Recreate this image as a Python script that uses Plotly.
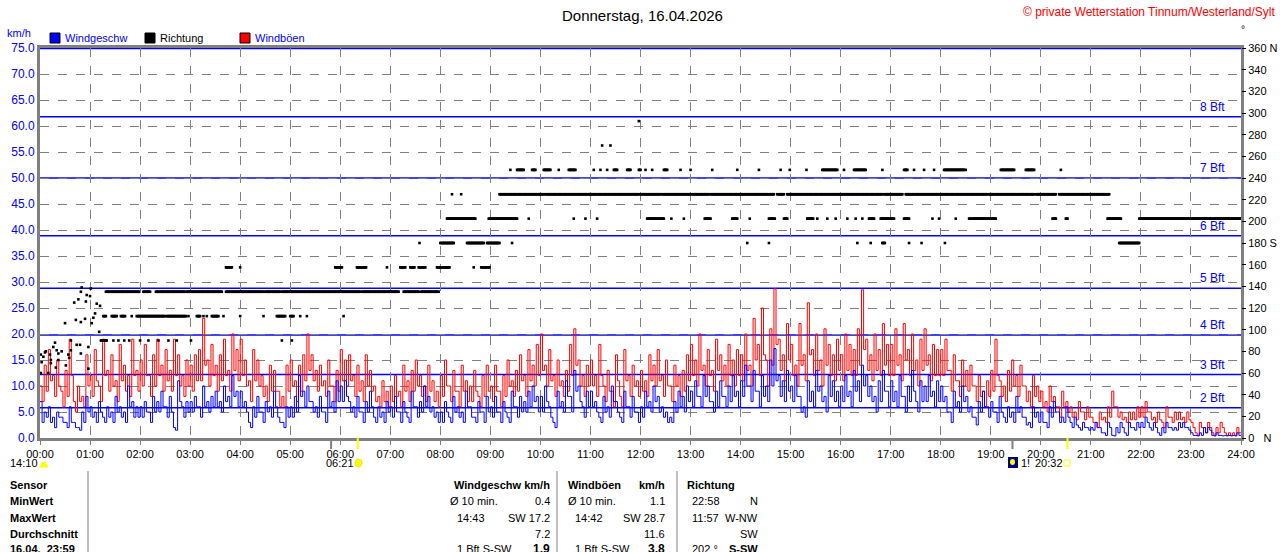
import plotly.graph_objects as go

# ---------------- data ----------------
HOURS = [f"{h:02d}:00" for h in range(25)]

# wind speed km/h, 5-minute peaks, one row per hour
SPEED = [
    [7, 5, 6, 4, 5, 4, 3, 6, 3, 2, 5, 8],
    [6, 5, 7, 4, 6, 5, 8, 6, 5, 10, 7, 6],
    [6, 7, 5, 8, 7, 9, 6, 8, 2, 11, 6, 7],
    [7, 8, 6, 10, 7, 8, 9, 7, 10, 8, 12, 9],
    [9, 7, 3, 6, 8, 5, 7, 6, 9, 4, 3, 6],
    [6, 8, 12, 9, 10, 7, 6, 8, 5, 9, 7, 11],
    [10, 11, 7, 6, 8, 5, 7, 9, 4, 6, 5, 7],
    [6, 8, 5, 7, 4, 9, 6, 7, 10, 8, 6, 5],
    [5, 7, 4, 8, 6, 5, 9, 6, 4, 7, 5, 8],
    [6, 8, 5, 7, 4, 9, 6, 8, 7, 9, 10, 8],
    [8, 10, 6, 3, 9, 7, 11, 8, 13, 10, 6, 9],
    [9, 7, 4, 8, 6, 10, 7, 4, 9, 6, 8, 5],
    [6, 9, 7, 10, 8, 6, 5, 4, 7, 9, 8, 10],
    [9, 11, 8, 12, 10, 7, 9, 11, 8, 10, 12, 9],
    [11, 14, 10, 13, 9, 12, 10, 15, 17.2, 12, 11, 13],
    [10, 12, 8, 6, 11, 9, 13, 10, 8, 12, 11, 9],
    [10, 12, 9, 13, 11, 14, 12, 10, 8, 11, 13, 9],
    [11, 9, 12, 8, 10, 13, 7, 11, 10, 12, 9, 11],
    [10, 8, 5, 9, 7, 10, 8, 6, 4, 7, 9, 6],
    [7, 5, 8, 4, 6, 5, 8, 6, 4, 3, 6, 5],
    [5, 3, 6, 7, 5, 4, 6, 3, 4, 2, 3, 2],
    [2, 3, 2, 1, 3, 0.5, 2, 3, 1, 3, 2, 3],
    [3, 4, 2, 3, 1, 2, 3, 2, 2, 3, 3, 2],
    [1, 0.5, 1, 2, 2, 0.5, 1, 0.5, 0.5, 0.5, 0.5, 1],
]
# wind speed km/h, 5-minute lows, one row per hour
SPEED_LO = [
    [3, 4, 3, 2, 4, 3, 2, 3, 2, 1.5, 3, 5],
    [4, 3, 5, 3, 4, 3, 5, 4, 3, 6, 4, 4],
    [4, 5, 3, 5, 5, 6, 4, 5, 1.5, 7, 4, 5],
    [5, 6, 4, 6, 5, 6, 6, 5, 7, 6, 8, 6],
    [6, 5, 2, 4, 5, 3, 5, 4, 6, 3, 2, 4],
    [4, 5, 8, 6, 7, 5, 4, 5, 3, 6, 5, 7],
    [7, 8, 5, 4, 5, 3, 5, 6, 3, 4, 3, 5],
    [4, 5, 3, 5, 3, 6, 4, 5, 6, 5, 4, 3],
    [3, 5, 3, 5, 4, 3, 6, 4, 3, 5, 3, 5],
    [4, 5, 3, 5, 3, 6, 4, 5, 5, 6, 7, 5],
    [5, 7, 4, 2, 6, 5, 8, 5, 9, 7, 4, 6],
    [6, 5, 3, 5, 4, 7, 5, 3, 6, 4, 5, 3],
    [4, 6, 5, 7, 5, 4, 3, 3, 5, 6, 5, 7],
    [6, 8, 6, 8, 7, 5, 6, 8, 6, 7, 8, 6],
    [8, 10, 7, 9, 6, 8, 7, 10, 11, 8, 7, 9],
    [7, 8, 5, 4, 7, 6, 9, 7, 5, 8, 7, 6],
    [7, 8, 6, 9, 7, 10, 8, 7, 5, 7, 9, 6],
    [7, 6, 8, 5, 7, 9, 5, 7, 7, 8, 6, 7],
    [7, 5, 3, 6, 5, 7, 5, 4, 2.5, 5, 6, 4],
    [5, 3, 5, 3, 4, 3, 5, 4, 2.5, 2, 4, 3],
    [3, 2, 4, 5, 3, 3, 4, 2, 2.5, 1.5, 2, 1.5],
    [1.5, 2, 1, 0.5, 2, 0.4, 1, 2, 0.5, 2, 1.5, 2],
    [2, 3, 1.5, 2, 0.5, 1, 2, 1.5, 1.5, 2, 2, 1.5],
    [0.5, 0.4, 0.5, 1, 1.5, 0.4, 0.5, 0.4, 0.4, 0.4, 0.4, 0.5],
]

# wind gusts km/h, 5-minute peaks, one row per hour
GUST = [
    [10, 14, 17, 12, 15, 9, 13, 19, 7, 10, 8, 16],
    [12, 17, 10, 19, 13, 16, 11, 18, 14, 12, 19, 13],
    [15, 18, 12, 16, 19, 14, 17, 13, 19, 16, 12, 15],
    [14, 16, 17, 23, 15, 18, 14, 16, 19, 13, 20, 17],
    [19, 15, 11, 17, 15, 12, 10, 14, 13, 9, 8, 14],
    [15, 11, 14, 16, 20, 16, 13, 14, 11, 15, 10, 13],
    [17, 15, 16, 12, 14, 11, 16, 13, 10, 8, 11, 9],
    [10, 12, 9, 14, 11, 13, 15, 12, 10, 14, 11, 9],
    [12, 15, 10, 13, 9, 14, 11, 10, 13, 8, 12, 14],
    [10, 14, 9, 12, 15, 11, 13, 16, 12, 17, 14, 18],
    [20, 14, 17, 12, 15, 11, 13, 18, 21, 15, 12, 14],
    [15, 12, 18, 10, 13, 9, 16, 8, 17, 12, 14, 11],
    [13, 11, 16, 14, 17, 12, 15, 10, 14, 12, 13, 16],
    [18, 15, 20, 14, 17, 13, 19, 16, 14, 18, 15, 17],
    [16, 20, 14, 23, 18, 25, 15, 21, 28.7, 19, 16, 22],
    [18, 14, 22, 16, 26, 17, 20, 15, 21, 18, 16, 19],
    [16, 20, 18, 17, 21, 28.5, 19, 16, 20, 17, 22, 18],
    [18, 21, 16, 22, 17, 20, 15, 19, 21, 16, 18, 17],
    [17, 19, 13, 16, 11, 15, 13, 14, 10, 12, 9, 11],
    [13, 19, 11, 10, 13, 15, 12, 14, 10, 9, 12, 10],
    [9, 7, 10, 8, 6, 9, 7, 6, 5, 7, 5, 6],
    [4, 3, 5, 4, 6, 9, 6, 5, 4, 5, 5, 6],
    [6, 7, 5, 4, 5, 3, 6, 4, 5, 5, 4, 5],
    [3, 1, 3, 2, 3, 1, 2, 3, 1, 1, 1, 2],
]
# wind gusts km/h, 5-minute lows, one row per hour
GUST_LO = [
    [7, 9, 11, 8, 10, 6, 8, 12, 5, 7, 6, 10],
    [8, 11, 7, 12, 9, 10, 7, 11, 9, 8, 12, 9],
    [10, 12, 8, 10, 12, 9, 11, 9, 12, 10, 8, 10],
    [9, 11, 11, 14, 10, 12, 9, 11, 12, 9, 13, 11],
    [12, 10, 7, 11, 10, 8, 7, 9, 9, 6, 6, 9],
    [10, 7, 9, 11, 13, 11, 9, 10, 8, 10, 7, 9],
    [11, 10, 11, 8, 9, 7, 10, 9, 7, 6, 7, 6],
    [7, 8, 6, 9, 7, 9, 10, 8, 7, 9, 7, 6],
    [8, 10, 7, 9, 6, 9, 7, 7, 9, 6, 8, 9],
    [7, 9, 6, 8, 10, 8, 9, 11, 8, 11, 10, 12],
    [13, 10, 11, 8, 10, 8, 9, 12, 14, 10, 8, 10],
    [10, 8, 12, 7, 9, 6, 11, 6, 11, 8, 10, 8],
    [9, 8, 11, 10, 11, 8, 10, 7, 10, 8, 9, 11],
    [12, 10, 13, 10, 12, 9, 13, 11, 10, 12, 10, 12],
    [11, 13, 10, 15, 12, 16, 10, 14, 18, 13, 11, 15],
    [12, 10, 14, 11, 16, 12, 13, 10, 14, 12, 11, 13],
    [11, 13, 12, 12, 14, 17, 13, 11, 13, 12, 14, 12],
    [12, 14, 11, 15, 12, 13, 10, 13, 14, 11, 12, 12],
    [12, 13, 9, 11, 8, 10, 9, 10, 7, 8, 6, 8],
    [9, 12, 8, 7, 9, 10, 8, 10, 7, 6, 8, 7],
    [6, 5, 7, 6, 4, 6, 5, 4, 3.5, 5, 3.5, 4],
    [3, 2, 3.5, 3, 4, 6, 4, 3.5, 3, 3.5, 3.5, 4],
    [4, 5, 3.5, 3, 3.5, 2, 4, 3, 3.5, 3.5, 3, 3.5],
    [2, 0.5, 2, 1, 2, 0.5, 1, 2, 0.5, 0.5, 0.5, 1],
]

# wind direction: early scattered readings (minute of day, degrees)
EARLY_T = [50, 49, 56, 60, 61, 46, 41, 55, 68, 72, 66, 43, 49, 54, 30, 62, 64, 71, 37, 18,
           44, 48, 73, 79, 6, 7, 16, 20, 26, 22, 1, 4, 12, 13, 34, 35, 37, 49, 58, 22,
           2, 13, 31, 19, 1, 58, 10]
EARLY_D = [139, 135, 132, 131, 138, 128, 125, 126, 124, 122, 115, 109, 107, 110, 106, 106, 111, 98, 90, 88,
           86, 86, 90, 90, 79, 80, 84, 81, 80, 78, 77, 75, 77, 72, 77, 74, 81, 78, 84, 72,
           70, 69, 67, 65, 60, 64, 60]

# wind direction: minute ranges (start, end) at which each sector was reported
DIR_90 = [(74, 80), (88, 88), (94, 94), (101, 101), (107, 107), (120, 120), (130, 130), (142, 142),
          (154, 154), (164, 164), (181, 181), (290, 290), (302, 302)]
DIR_112 = [(76, 79), (86, 92), (97, 102), (110, 110), (116, 150), (152, 175), (178, 178), (188, 192),
           (196, 196), (200, 200), (206, 214), (220, 220), (240, 240), (268, 268), (284, 294),
           (300, 304), (312, 312), (320, 320), (364, 364)]
DIR_135 = [(79, 119), (124, 132), (139, 174), (176, 218), (223, 268), (270, 288), (290, 384),
           (386, 430), (436, 454), (457, 478)]
DIR_157 = [(223, 230), (240, 240), (354, 362), (380, 391), (416, 416), (432, 438), (444, 449),
           (454, 462), (476, 491), (520, 520), (529, 539)]
DIR_180 = [(455, 455), (480, 496), (512, 532), (536, 551), (566, 566), (848, 848), (874, 874),
           (980, 980), (996, 996), (1010, 1013), (1042, 1042), (1057, 1057), (1085, 1085), (1294, 1318)]
DIR_202 = [(488, 522), (538, 572), (586, 586), (640, 640), (654, 654), (668, 668), (728, 748),
           (757, 757), (772, 772), (797, 804), (830, 836), (851, 851), (874, 881), (892, 896),
           (920, 927), (932, 932), (944, 944), (954, 954), (968, 968), (978, 978), (986, 986),
           (994, 1000), (1008, 1024), (1036, 1042), (1070, 1070), (1078, 1078), (1098, 1098),
           (1114, 1146), (1214, 1218), (1230, 1232), (1280, 1296), (1318, 1440)]
DIR_225 = [(494, 494), (505, 505), (551, 604), (606, 718), (720, 744), (746, 780), (782, 802),
           (804, 880), (884, 892), (896, 1010), (1012, 1034), (1038, 1136), (1138, 1192),
           (1194, 1218), (1222, 1282)]
DIR_247 = [(564, 564), (572, 580), (590, 594), (604, 612), (622, 622), (634, 642), (664, 664),
           (672, 672), (680, 680), (688, 692), (704, 708), (718, 720), (726, 726), (734, 734),
           (748, 752), (768, 768), (780, 780), (806, 806), (836, 836), (862, 862), (888, 888),
           (899, 899), (919, 919), (938, 956), (964, 964), (976, 990), (1010, 1010), (1036, 1040),
           (1048, 1048), (1060, 1060), (1072, 1072), (1084, 1108), (1110, 1110), (1152, 1168),
           (1182, 1192), (1224, 1224)]
DIR_270 = [(674, 674), (684, 684)]
DIR_292 = [(718, 718)]
DIR_SECTORS = [(90, DIR_90), (112.5, DIR_112), (135, DIR_135), (157.5, DIR_157), (180, DIR_180),
               (202.5, DIR_202), (225, DIR_225), (247.5, DIR_247), (270, DIR_270), (292.5, DIR_292)]

BFT_LEVELS = [5.8, 12.2, 19.8, 28.8, 38.9, 50.0, 61.8, 74.9]
BFT_LABELS = ["2 Bft", "3 Bft", "4 Bft", "5 Bft", "6 Bft", "7 Bft", "8 Bft", ""]

NBSP = "\u00a0"
DIR_TICKS = list(range(0, 361, 20))
DIR_TICKTEXT = [("0" + NBSP * 3 + "N") if v == 0 else "180 S" if v == 180 else "360 N" if v == 360 else str(v)
                for v in DIR_TICKS]

# ---------------- build series ----------------
def zigzag(hi_rows, lo_rows):
    xs, ys = [], []
    for h in range(24):
        for i in range(12):
            t = h * 60 + i * 5
            xs += [t, t + 2.5]
            ys += [hi_rows[h][i], lo_rows[h][i]]
    xs.append(1440)
    ys.append(ys[-1])
    return xs, ys


sx, sy = zigzag(SPEED, SPEED_LO)
gx, gy = zigzag(GUST, GUST_LO)

dir_t = list(EARLY_T)
dir_d = list(EARLY_D)
for deg, runs in DIR_SECTORS:
    for lo, hi in runs:
        for m in range(lo, hi + 1):
            dir_t.append(m)
            dir_d.append(deg)

# ---------------- geometry helpers ----------------
W, H = 1280, 552
L, R, T, B = 40, 1241, 48, 438          # plot area in pixels
FONT = "Liberation Sans"


def px(x):
    return (x - L) / (R - L)


def py(y):
    return (B - y) / (B - T)


fig = go.Figure()
fig.add_trace(go.Scatter(x=gx, y=gy, mode="lines", line=dict(color="#ff0000", width=1, shape="hv"),
                         name="Windböen", hoverinfo="skip"))
fig.add_trace(go.Scatter(x=sx, y=sy, mode="lines", line=dict(color="#0000ff", width=1, shape="hv"),
                         name="Windgeschw", hoverinfo="skip"))
fig.add_trace(go.Scatter(x=dir_t, y=dir_d, mode="markers", yaxis="y2", name="Richtung",
                         marker=dict(symbol="square", size=2.6, color="black", line=dict(width=0)),
                         hoverinfo="skip"))

shapes = []
annotations = []

# Beaufort lines
for lev, lab in zip(BFT_LEVELS, BFT_LABELS):
    shapes.append(dict(type="line", xref="paper", x0=0, x1=1, yref="y", y0=lev, y1=lev,
                       line=dict(color="#0000ff", width=1.5), layer="below"))
    if lab:
        annotations.append(dict(text=lab, xref="paper", x=px(1227), yref="y", y=lev, yshift=1,
                                xanchor="right", yanchor="bottom", showarrow=False,
                                font=dict(color="#0000ff", size=12, family=FONT)))


def txt(s, x, y, anchor="left", color="black", size=12, bold=False):
    if bold:
        s = "<b>" + s + "</b>"
    annotations.append(dict(text=s, xref="paper", yref="paper", x=px(x), y=py(y),
                            xanchor=anchor, yanchor="middle", showarrow=False,
                            font=dict(color=color, size=size, family=FONT)))


# title etc.
txt("Donnerstag, 16.04.2026", 642, 15, anchor="center", size=15)
txt("© private Wetterstation Tinnum/Westerland/Sylt", 1278, 12, anchor="right", color="#ff0000", size=12)
txt("°", 1243, 30, anchor="center", size=10)
txt("km/h", 5, 33, color="#0000ff", size=11)

# legend
for x0, col, lab, tcol in [(50, "#0000ff", "Windgeschw", "#0000ff"), (145, "#000000", "Richtung", "#000000"),
                           (240, "#ff0000", "Windböen", "#0000ff")]:
    shapes.append(dict(type="rect", xref="paper", yref="paper", x0=px(x0), x1=px(x0 + 10),
                       y0=py(43), y1=py(33), fillcolor=col, line=dict(color="black", width=1)))
    txt(lab, x0 + 13, 38, color=tcol, size=11)

# sunrise / sunset marks under the axis
for m, col in [(349, "#808080"), (381, "#ffff00"), (1166, "#808080"), (1232, "#ffff00")]:
    shapes.append(dict(type="line", xref="x", x0=m, x1=m, yref="paper", y0=py(438), y1=py(449),
                       line=dict(color=col, width=2)))
txt("14:10", 8, 463, size=11)
shapes.append(dict(type="path", xref="paper", yref="paper",
                   path=f"M {px(40)},{py(467)} Q {px(44)},{py(457)} {px(48)},{py(467)} Z",
                   fillcolor="#ffff00", line=dict(color="#ffff00", width=1)))
txt("06:21", 324, 463, size=11)
shapes.append(dict(type="circle", xref="paper", yref="paper", x0=px(355), x1=px(362), y0=py(467), y1=py(459),
                   fillcolor="#ffff00", line=dict(color="#ffe000", width=1)))
shapes.append(dict(type="rect", xref="paper", yref="paper", x0=px(1008), x1=px(1018), y0=py(468), y1=py(457),
                   fillcolor="#000080", line=dict(width=0)))
shapes.append(dict(type="circle", xref="paper", yref="paper", x0=px(1010), x1=px(1015), y0=py(465), y1=py(459),
                   fillcolor="#ffff00", line=dict(width=0)))
txt("1!", 1019, 463, size=11)
txt("20:32", 1033, 463, size=11)
shapes.append(dict(type="rect", xref="paper", yref="paper", x0=px(1064), x1=px(1070), y0=py(466), y1=py(460),
                   fillcolor="white", line=dict(color="#ffff00", width=1)))

# table
ROWS_Y = [485, 501, 518, 534, 549]
for lab, y in zip(["Sensor", "MinWert", "MaxWert", "Durchschnitt", "16.04." + NBSP * 2 + "23:59"], ROWS_Y):
    txt(lab, 8, y, size=11, bold=True)
for xs in (88, 557, 677):
    shapes.append(dict(type="line", xref="paper", yref="paper", x0=px(xs), x1=px(xs), y0=py(471), y1=py(560),
                       line=dict(color="#808080", width=1)))
txt("Windgeschw km/h", 552, ROWS_Y[0], anchor="right", size=11, bold=True)
txt("Ø 10 min.", 448, ROWS_Y[1], size=11)
txt("0.4", 552, ROWS_Y[1], anchor="right", size=11)
txt("14:43", 455, ROWS_Y[2], size=11)
txt("SW 17.2", 552, ROWS_Y[2], anchor="right", size=11)
txt("7.2", 552, ROWS_Y[3], anchor="right", size=11)
txt("1 Bft S-SW", 455, ROWS_Y[4], size=11)
txt("1.9", 552, ROWS_Y[4], anchor="right", size=12, bold=True)

txt("Windböen", 566, ROWS_Y[0], size=11, bold=True)
txt("km/h", 667, ROWS_Y[0], anchor="right", size=11, bold=True)
txt("Ø 10 min.", 566, ROWS_Y[1], size=11)
txt("1.1", 667, ROWS_Y[1], anchor="right", size=11)
txt("14:42", 573, ROWS_Y[2], size=11)
txt("SW 28.7", 667, ROWS_Y[2], anchor="right", size=11)
txt("11.6", 667, ROWS_Y[3], anchor="right", size=11)
txt("1 Bft S-SW", 573, ROWS_Y[4], size=11)
txt("3.8", 667, ROWS_Y[4], anchor="right", size=12, bold=True)

txt("Richtung", 685, ROWS_Y[0], size=11, bold=True)
txt("22:58", 690, ROWS_Y[1], size=11)
txt("N", 760, ROWS_Y[1], anchor="right", size=11)
txt("11:57", 690, ROWS_Y[2], size=11)
txt("W-NW", 760, ROWS_Y[2], anchor="right", size=11)
txt("SW", 760, ROWS_Y[3], anchor="right", size=11)
txt("202 °", 690, ROWS_Y[4], size=11)
txt("S-SW", 760, ROWS_Y[4], anchor="right", size=11, bold=True)

fig.update_layout(
    width=W, height=H, autosize=False,
    margin=dict(l=L, r=W - R, t=T, b=H - B, pad=0, autoexpand=False),
    paper_bgcolor="white", plot_bgcolor="white",
    showlegend=False,
    font=dict(family=FONT, size=12, color="black"),
    xaxis=dict(range=[0, 1440], tickvals=list(range(0, 1441, 60)), ticktext=HOURS, automargin=False,
               showgrid=True, gridcolor="#808080", griddash="dash", gridwidth=1,
               zeroline=False, showline=True, linecolor="#808080", linewidth=3, mirror=True,
               ticks="outside", ticklen=4, tickcolor="#808080",
               tickfont=dict(size=11, color="black", family=FONT)),
    yaxis=dict(range=[0, 75], tickvals=list(range(0, 76, 5)), automargin=False,
               ticktext=[f"{v:.1f}" for v in range(0, 76, 5)],
               showgrid=True, gridcolor="#808080", griddash="dash", gridwidth=1,
               zeroline=False, showline=True, linecolor="#808080", linewidth=3, mirror=True,
               ticks="", tickfont=dict(size=12, color="#0000ff", family=FONT)),
    yaxis2=dict(range=[0, 360], overlaying="y", side="right", tickvals=DIR_TICKS, ticktext=DIR_TICKTEXT,
                automargin=False, showgrid=False, zeroline=False, showline=False,
                ticks="outside", ticklen=4, tickcolor="black",
                tickfont=dict(size=11, color="black", family=FONT)),
    shapes=shapes,
    annotations=annotations,
)

# remove the default page margin so the 1280x552 figure fills the window exactly
fig.write_html("out.html",
               config={"displayModeBar": False},
               post_script="document.body.style.margin='0';"
                           "document.documentElement.style.overflow='hidden';")
